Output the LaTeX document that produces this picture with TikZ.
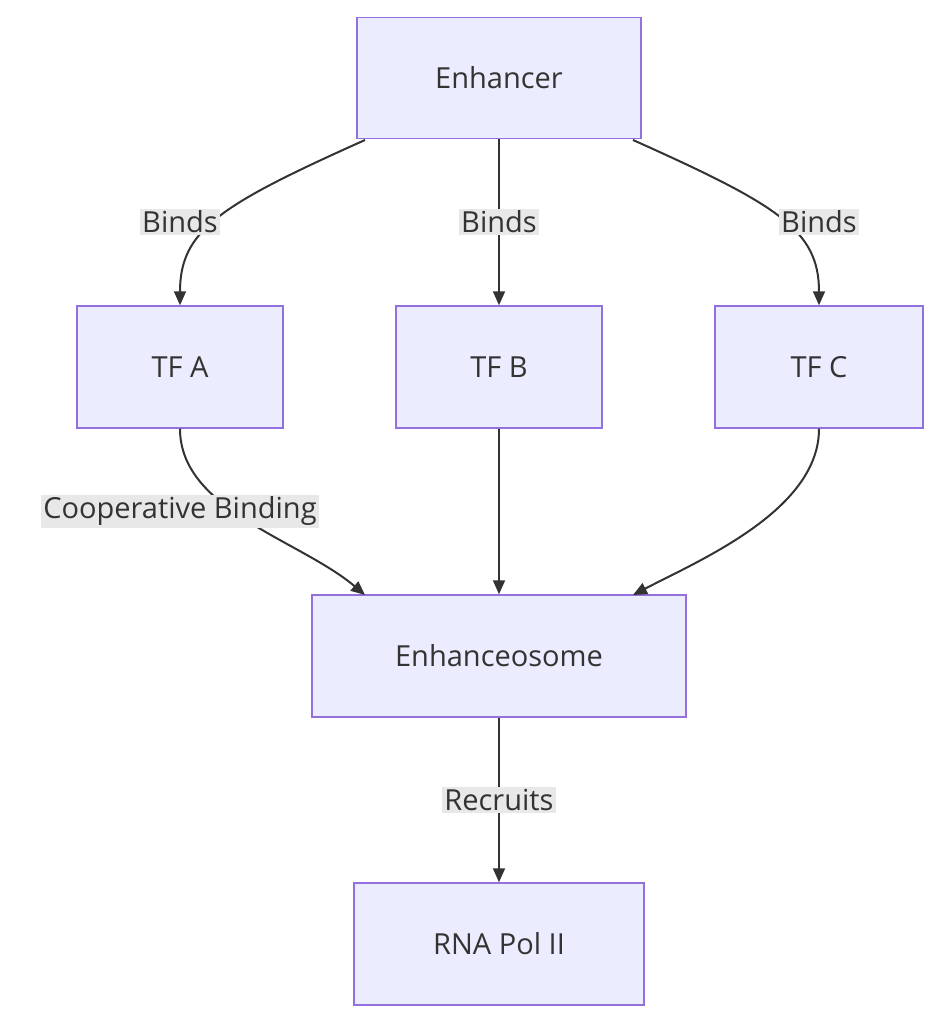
\documentclass[tikz,border=0pt]{standalone}
\usepackage{fontspec}
\setmainfont{Open Sans}
\usetikzlibrary{arrows.meta}
\definecolor{nfill}{HTML}{ECECFF}
\definecolor{nstroke}{HTML}{9370DB}
\definecolor{txt}{HTML}{333333}
\definecolor{lbl}{HTML}{E8E8E8}
\begin{document}
\begin{tikzpicture}[x=1pt,y=-1pt,
  box/.style={draw=nstroke,fill=nfill,line width=1.5pt,text=txt,font=\fontsize{29}{34}\selectfont,inner sep=0pt},
  lab/.style={fill=lbl,text=txt,font=\fontsize{29}{34}\selectfont,inner sep=2pt},
  edge/.style={draw=txt,line width=2pt,-{Triangle[length=14pt,width=12pt]}}]
\useasboundingbox (0,0) rectangle (941,1024);
\node[box,minimum width=284pt,minimum height=121pt] (enh) at (499,78) {Enhancer};
\node[box,minimum width=206pt,minimum height=122pt] (a) at (180,367) {TF A};
\node[box,minimum width=206pt,minimum height=122pt] (b) at (499,367) {TF B};
\node[box,minimum width=208pt,minimum height=122pt] (c) at (819,367) {TF C};
\node[box,minimum width=374pt,minimum height=122pt] (eo) at (499,656) {Enhanceosome};
\node[box,minimum width=290pt,minimum height=122pt] (pol) at (499,944) {RNA Pol II};
\coordinate (e1) at (365,140); \coordinate (e3) at (633,140);
\coordinate (o1) at (365,595); \coordinate (o3) at (633,595);
\draw[edge] (e1) .. controls (220,205) and (180,230) .. (a.north);
\draw[edge] (enh.south) -- (b.north);
\draw[edge] (e3) .. controls (778,205) and (819,230) .. (c.north);
\draw[edge] (a.south) .. controls (180,510) and (300,540) .. (o1);
\draw[edge] (b.south) -- (eo.north);
\draw[edge] (c.south) .. controls (819,510) and (700,560) .. (o3);
\draw[edge] (eo.south) -- (pol.north);
\node[lab] (l1) at (180,222) {Binds};
\node[lab] (l2) at (499,222) {Binds};
\node[lab] (l3) at (819,222) {Binds};
\node[lab] (l4) at (180,511) {Cooperative Binding};
\node[lab] (l5) at (499,800) {Recruits};
\end{tikzpicture}
\end{document}
